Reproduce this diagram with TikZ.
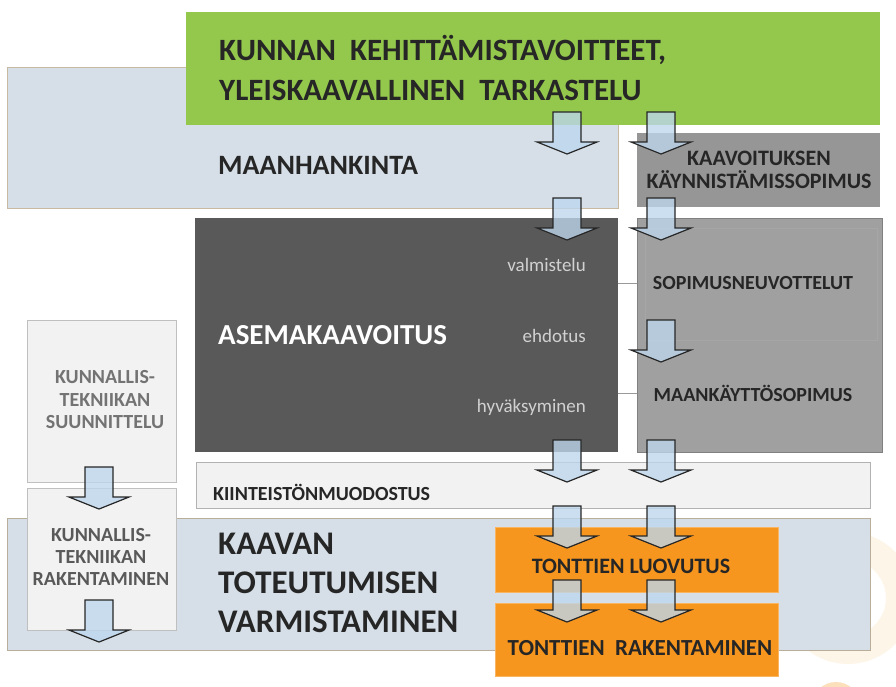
\documentclass[tikz,border=0pt]{standalone}
\usepackage{fontspec}
\setmainfont{Carlito}
\usetikzlibrary{calc}
\definecolor{leafgreen}{RGB}{148,200,76}
\definecolor{mistblue}{RGB}{214,223,231}
\definecolor{slate}{RGB}{89,89,89}
\definecolor{midgray}{RGB}{160,160,160}
\definecolor{paper}{RGB}{242,242,242}
\definecolor{amber}{RGB}{246,150,30}
\definecolor{arrowblue}{RGB}{189,215,238}
\definecolor{tanline}{RGB}{200,186,160}
\tikzset{
  box/.style={anchor=north west, inner sep=0pt, outer sep=0pt},
  title/.style={font=\bfseries\fontsize{29}{39}\selectfont, text=black!85, align=left, anchor=west, inner sep=0pt},
  tag/.style={font=\bfseries\fontsize{20}{23}\selectfont, text=black!85, align=center, inner sep=0pt},
  phase/.style={font=\fontsize{19}{21}\selectfont, text=white!82!black, anchor=east, inner sep=0pt},
  flowarrow/.style={draw=black!85, line width=1.2pt, fill=arrowblue, fill opacity=0.78, line join=miter}
}
\def\flowarrow(#1,#2){\draw[flowarrow] (#1-14,#2) -- (#1+14,#2) -- (#1+14,#2+30) -- (#1+30,#2+30) -- (#1,#2+42) -- (#1-30,#2+30) -- (#1-14,#2+30) -- cycle;}
\begin{document}
\begin{tikzpicture}[x=1pt, y=-1pt]
		%%%%% START %%%%%
		\useasboundingbox[fill=white] (0,0) rectangle (896,686);
		
		% faint logo behind
		\draw[amber!10, line width=28pt] (848,598) circle (52);
		\fill[amber!30] (836,706) circle (24);
		
		\node[box, fill=mistblue, draw=tanline, minimum width=611, minimum height=141] (hankinta) at (7,67) {};
		\node[box, fill=leafgreen, minimum width=694, minimum height=113] (tavoite) at (186,12) {};
		\node[box, fill=midgray!94!black, minimum width=243, minimum height=74] (kaynnistys) at (637,133) {};
		
		\node[box, fill=slate, minimum width=423, minimum height=234] (asema) at (195,218) {};
		\node[box, fill=midgray, draw=midgray!80!black, minimum width=245, minimum height=234] (sopimus) at (637,218) {};
		\node[box, draw=black!35, minimum width=232, minimum height=112] (neuvottelu) at (645,228) {};
		
		\node[box, fill=paper, draw=black!30, minimum width=674, minimum height=46] (kiinteisto) at (196,462) {};
		\node[box, fill=paper, draw=black!25, minimum width=149, minimum height=162] (ksuunn) at (27,320) {};
		\node[box, fill=mistblue, draw=tanline!80!gray, minimum width=863, minimum height=132] (toteutus) at (7,518) {};
		\node[box, fill=paper, draw=black!25, minimum width=149, minimum height=142] (krak) at (27,488) {};
		
		\node[box, fill=amber, draw=amber!70, minimum width=283, minimum height=65] (luovutus) at (495,527) {};
		\node[box, fill=amber, draw=amber!70, minimum width=283, minimum height=73] (rakennus) at (495,603) {};
		
		% arrows
		\flowarrow(567,112) \flowarrow(661,112)
		\flowarrow(567,198) \flowarrow(661,198)
		\flowarrow(661,320)
		\flowarrow(567,440) \flowarrow(661,440)
		\flowarrow(567,506) \flowarrow(661,506)
		\flowarrow(567,580) \flowarrow(661,580)
		\flowarrow(99,467) \flowarrow(99,600)
		
		% texts
		\node[title, font=\bfseries\fontsize{31}{40}\selectfont] (tavoiteteksti) at (219,68) {KUNNAN\ \ KEHITTÄMISTAVOITTEET,\\YLEISKAAVALLINEN\ \ TARKASTELU};
		\node[title, font=\bfseries\fontsize{28}{30}\selectfont] (hankintateksti) at (218,165) {MAANHANKINTA};
		\node[tag, font=\bfseries\fontsize{22}{23}\selectfont] (kaynnistysteksti) at (759,170) {KAAVOITUKSEN\\KÄYNNISTÄMISSOPIMUS};
		\node[title, text=white] (asemateksti) at (218,335) {ASEMAKAAVOITUS};
		\node[phase] (valmistelu) at (586,265) {valmistelu};
		\node[phase] (ehdotus) at (586,336) {ehdotus};
		\node[phase] (hyvaksyminen) at (586,407) {hyväksyminen};
		\node[tag] (neuvotteluteksti) at (753,283) {SOPIMUSNEUVOTTELUT};
		\node[tag] (maankaytto) at (753,393) {MAANKÄYTTÖSOPIMUS};
		\draw[black!40] (asema.east |- neuvotteluteksti.center) -- (sopimus.west |- neuvotteluteksti.center);
		\draw[black!40] (asema.east |- maankaytto.center) -- (sopimus.west |- maankaytto.center);
		\node[tag, anchor=west, font=\bfseries\fontsize{20}{21}\selectfont] (kiinteistoteksti) at (213,492) {KIINTEISTÖNMUODOSTUS};
		\node[tag, text=black!55, font=\bfseries\fontsize{20}{22.5}\selectfont] (ksuunnteksti) at (105,400) {KUNNALLIS-\\TEKNIIKAN\\SUUNNITTELU};
		\node[tag, text=black!65, font=\bfseries\fontsize{20}{22}\selectfont] (krakteksti) at (101,557) {KUNNALLIS-\\TEKNIIKAN\\RAKENTAMINEN};
		\node[title, font=\bfseries\fontsize{33}{39}\selectfont] (toteutusteksti) at (218,583) {KAAVAN\\TOTEUTUMISEN\\VARMISTAMINEN};
		\node[tag, font=\bfseries\fontsize{22}{24}\selectfont] (luovutusteksti) at (631,566) {TONTTIEN LUOVUTUS};
		\node[tag, font=\bfseries\fontsize{23}{25}\selectfont] (rakennusteksti) at (640,648) {TONTTIEN\ \ RAKENTAMINEN};
		
		%%%%% END %%%%%
\end{tikzpicture}
\end{document}
